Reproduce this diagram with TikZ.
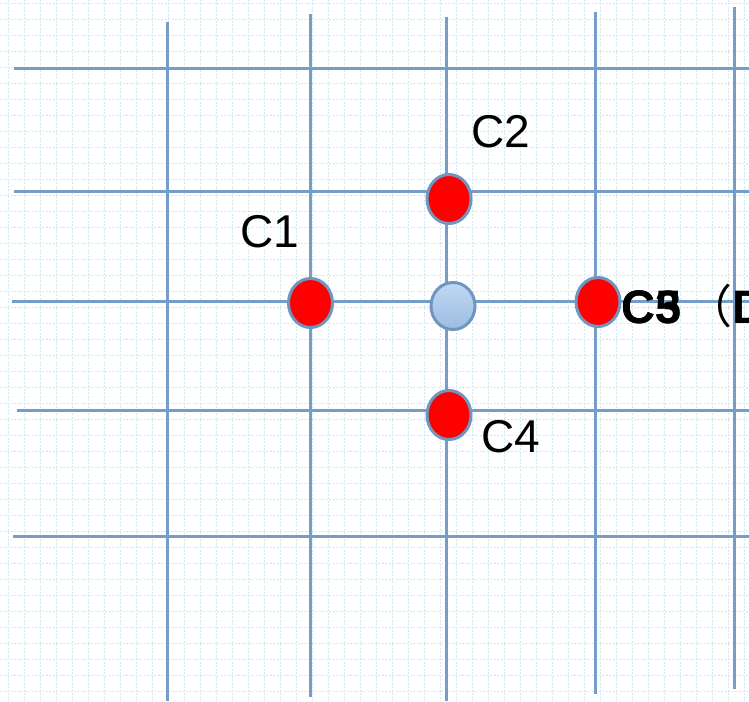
\documentclass[tikz,border=0pt]{standalone}
\usepackage{fontspec}
\setmainfont{Liberation Sans}
\newfontfamily\cjk{Noto Sans CJK SC}
\usetikzlibrary{shapes.geometric}
\definecolor{gridline}{RGB}{117,157,200}
\definecolor{minor}{RGB}{205,232,247}
\definecolor{dotedge}{RGB}{112,150,192}
\definecolor{dotred}{RGB}{255,0,0}
\definecolor{hubtop}{RGB}{192,216,242}
\definecolor{hubbot}{RGB}{155,189,226}
\begin{document}
\begin{tikzpicture}[x=1pt,y=-1pt,
  minorline/.style={minor, line width=1.3pt, dash pattern=on 2pt off 1.5pt},
  mainline/.style={gridline, line width=3pt},
  reddot/.style={ellipse, draw=dotedge, line width=3pt, fill=dotred,
    minimum width=44pt, minimum height=49pt, inner sep=0pt},
  hubdot/.style={ellipse, draw=dotedge, line width=3pt, top color=hubtop,
    bottom color=hubbot, minimum width=44pt, minimum height=47pt, inner sep=0pt},
  lab/.style={anchor=base west, inner sep=0pt, font=\fontsize{46}{54}\selectfont},
  boldlab/.style={lab, font=\fontsize{47}{54}\selectfont\bfseries}]
\useasboundingbox (0,0) rectangle (749,701);
\clip (0,0) rectangle (749,701);
\fill[white] (0,0) rectangle (749,701);

% fine dashed background grid
\foreach \x in {8.7,24.7,...,748} \draw[minorline] (\x,0) -- (\x,701);
\foreach \y in {3.3,19.3,...,700} \draw[minorline] (0,\y) -- (749,\y);

% main grid lines
\draw[mainline] (14,68) -- (749,68);
\draw[mainline] (14,191) -- (749,191);
\draw[mainline] (12,301) -- (749,301);
\draw[mainline] (17,410) -- (749,410);
\draw[mainline] (13,536) -- (749,536);
\draw[mainline] (167,22) -- (167,701);
\draw[mainline] (310,14) -- (310,697);
\draw[mainline] (446,17) -- (446,701);
\draw[mainline] (595,12) -- (595,694);
\draw[mainline] (734,7) -- (734,689);

% candidate points and the centre point
\node[reddot] (c1) at (310.5,303) {};
\node[reddot] (c2) at (449,199) {};
\node[hubdot] (hub) at (453,306) {};
\node[reddot] (c5) at (598,302) {};
\node[reddot] (c4) at (449,415) {};

% labels
\node[lab] (l2) at (471,147) {C2};
\node[lab] (l1) at (240,247) {C1};
\node[lab] (l4) at (481,452) {C4};
\node[boldlab] (l3) at (621,323) {C3};
\node[boldlab] (l5) at (621,323) {C5\hspace{5pt}{\cjk\mdseries\fontsize{46}{54}\selectfont （}D};
\end{tikzpicture}
\end{document}
